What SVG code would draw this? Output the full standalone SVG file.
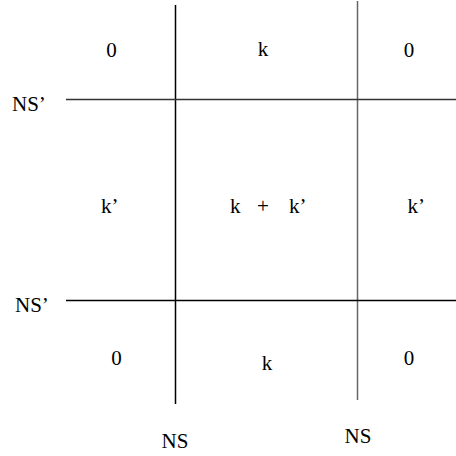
<svg xmlns="http://www.w3.org/2000/svg" width="456" height="456" viewBox="0 0 456 456">
<style>
text{font-family:"Liberation Serif","Times New Roman",serif;font-size:21px;fill:#000}
.l{fill:none;stroke-width:1.5}
</style>
<rect width="456" height="456" fill="#fff"/>
<g id="lines">
<line class="l" x1="175.5" y1="5" x2="175.5" y2="404" stroke="#000"/>
<line class="l" x1="357.5" y1="1" x2="357.5" y2="400" stroke="#666"/>
<line class="l" x1="66" y1="99.5" x2="456" y2="99.5" stroke="#333"/>
<line class="l" x1="66" y1="300.5" x2="456" y2="300.5" stroke="#000"/>
</g>
<g id="labels">
<text x="111.5" y="56.5" text-anchor="middle">0</text>
<text x="263" y="56" text-anchor="middle">k</text>
<text x="409" y="56.5" text-anchor="middle">0</text>
<text x="12" y="110.5">NS’</text>
<text x="101" y="213">k’</text>
<text x="230" y="213">k<tspan x="257">+</tspan><tspan x="289">k’</tspan></text>
<text x="407.5" y="213">k’</text>
<text x="15" y="311.5">NS’</text>
<text x="116.5" y="365" text-anchor="middle">0</text>
<text x="267" y="370" text-anchor="middle">k</text>
<text x="409" y="365" text-anchor="middle">0</text>
<text x="161.5" y="448">NS</text>
<text x="344.5" y="443">NS</text>
</g>
</svg>
